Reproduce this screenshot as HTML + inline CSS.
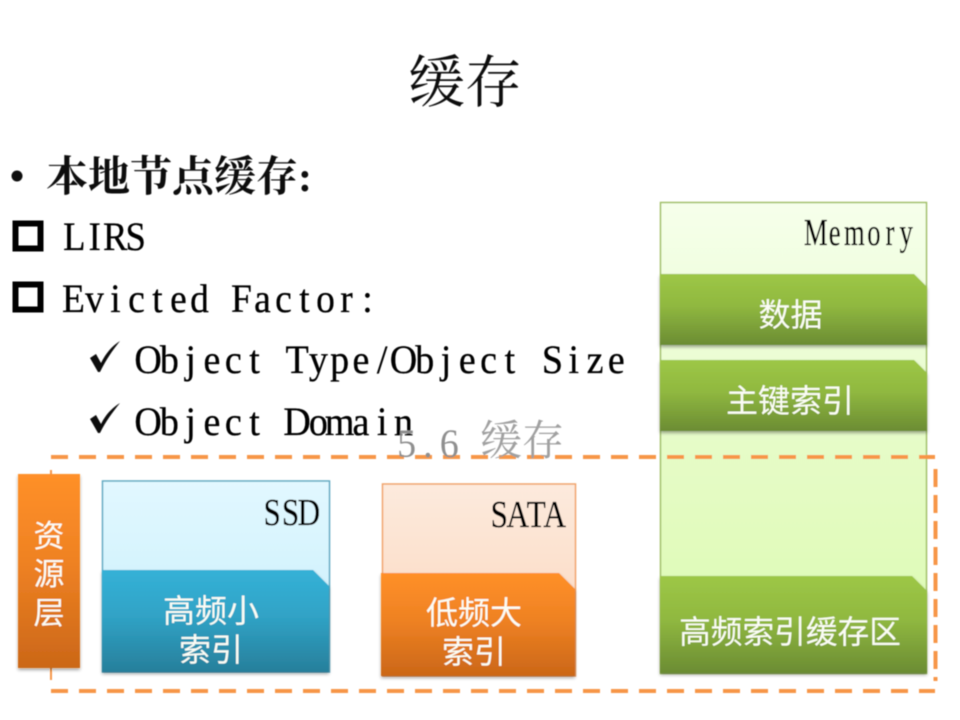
<!DOCTYPE html>
<html>
<head>
<meta charset="utf-8">
<style>
html,body{margin:0;padding:0;background:#fff;}
svg{display:block;}
.m{font-family:"Liberation Serif",serif;fill:#000;font-size:40px;text-anchor:middle;stroke:#000;stroke-width:.3px;}
.w{font-family:"Liberation Sans","Noto Sans CJK SC",sans-serif;fill:#fbfdf5;font-size:32px;text-anchor:middle;}
</style>
</head>
<body>
<svg width="960" height="720" viewBox="0 0 960 720" xmlns="http://www.w3.org/2000/svg">
<defs>
<linearGradient id="gg" x1="0" y1="0" x2="0" y2="1"><stop offset="0" stop-color="#9dc746"/><stop offset=".45" stop-color="#90b840"/><stop offset="1" stop-color="#6b8c33"/></linearGradient>
<linearGradient id="bg" x1="0" y1="0" x2="0" y2="1"><stop offset="0" stop-color="#35b1d7"/><stop offset=".45" stop-color="#30a3c6"/><stop offset="1" stop-color="#277f9b"/></linearGradient>
<linearGradient id="og" x1="0" y1="0" x2="0" y2="1"><stop offset="0" stop-color="#ff9029"/><stop offset=".45" stop-color="#ef8223"/><stop offset="1" stop-color="#cb6718"/></linearGradient>
<linearGradient id="lg" x1="0" y1="0" x2="0" y2="1"><stop offset="0" stop-color="#f6ffeb"/><stop offset=".5" stop-color="#e6fcc8"/><stop offset="1" stop-color="#dcfab0"/></linearGradient>
<linearGradient id="lb" x1="0" y1="0" x2="0" y2="1"><stop offset="0" stop-color="#e2f8ff"/><stop offset="1" stop-color="#c6eefb"/></linearGradient>
<linearGradient id="lo" x1="0" y1="0" x2="0" y2="1"><stop offset="0" stop-color="#fdeadd"/><stop offset="1" stop-color="#fbd5ba"/></linearGradient>
<filter id="sh" x="-5%" y="-5%" width="110%" height="115%"><feDropShadow dx="0" dy="2" stdDeviation="1.5" flood-color="#000" flood-opacity=".35"/></filter>
<filter id="b" x="-5%" y="-5%" width="110%" height="110%"><feGaussianBlur stdDeviation=".45"/></filter>
</defs>

<g filter="url(#b)">
<!-- Title -->
<text x="465" y="102" text-anchor="middle" font-size="57" fill="#111" font-family="'Liberation Serif','Noto Serif CJK SC',serif">缓存</text>

<!-- Bullets -->
<circle cx="17" cy="176" r="5.5" fill="#111"/>
<text x="46" y="191" font-size="42" font-weight="700" fill="#111" font-family="'Liberation Serif','Noto Serif CJK SC',serif">本地节点缓存:</text>

<rect x="15.5" y="223.5" width="25" height="25" fill="none" stroke="#000" stroke-width="6"/>
<text class="m" transform="translate(64,250) scale(.915,1)" x="11.2 33.6 56 78.4">LIRS</text>

<rect x="15.5" y="284.5" width="25" height="25" fill="none" stroke="#000" stroke-width="6"/>
<text class="m" transform="translate(63,312) scale(.9375,1)" x="11.2 33.6 56 78.4 100.8 123.2 145.6 168 190.4 212.8 235.2 257.6 280 302.4 324.8">Evicted Factor:</text>

<path d="M90 358 L96 354 L101 363 C106 353 112 346 120 341 C112 351 106 360 100 372 L98 372 Z" fill="#111"/>
<text class="m" transform="translate(137.5,373) scale(.95,1)" x="11.2 33.6 56 78.4 100.8 123.2 145.6 168 190.4 212.8 235.2 257.6 280 302.4 324.8 347.2 369.6 392 414.4 436.8 459.2 481.6 504">Object Type/Object Size</text>

<path d="M90 419 L96 415 L101 424 C106 414 112 408 120 403 C112 413 106 421 100 433 L98 433 Z" fill="#111"/>
<text class="m" transform="translate(137.5,435) scale(.95,1)" x="11.2 33.6 56 78.4 100.8 123.2 145.6 168 190.4 212.8 235.2 257.6 280">Object Domain</text>

<!-- Memory -->
<rect x="660.5" y="202.5" width="266" height="471" fill="url(#lg)" stroke="#a0c066" stroke-width="1.5"/>
<text class="m" transform="translate(806,245) scale(.7,1)" style="font-size:38px" x="14 41 69 97 120 143">Memory</text>

<path d="M660 274 H914 L927 287 V345 H660 Z" fill="url(#gg)" filter="url(#sh)"/>
<text class="w" x="790.5" y="326">数据</text>
<path d="M660 360 H914 L927 373 V431 H660 Z" fill="url(#gg)" filter="url(#sh)"/>
<text class="w" x="790" y="412">主键索引</text>
<path d="M660 576 H912 L927 591 V673 H660 Z" fill="url(#gg)" filter="url(#sh)"/>
<text class="w" x="790" y="643" style="font-size:31.7px">高频索引缓存区</text>

<!-- Dashed frame -->
<path d="M51 457 H935" fill="none" stroke="#f79646" stroke-width="4" stroke-dasharray="17 11"/>
<path d="M51 691 H935" fill="none" stroke="#f79646" stroke-width="4" stroke-dasharray="17 11"/>
<path d="M935.5 469 V681" fill="none" stroke="#f79646" stroke-width="4" stroke-dasharray="18 8"/>
<path d="M51 470 V680" fill="none" stroke="#f79646" stroke-width="2"/>

<!-- Gray footer title -->
<text transform="translate(396,457) scale(.95,1)" x="11.2 33.6 56" font-size="40" text-anchor="middle" fill="#8f8f8f" font-family="'Liberation Serif',serif">5.6</text>
<text x="480" y="455" font-size="42" fill="#a0a0a0" font-family="'Liberation Serif','Noto Serif CJK SC',serif">缓存</text>

<!-- Resource layer -->
<rect x="18" y="474" width="62" height="194" fill="url(#og)" filter="url(#sh)"/>
<text class="w" x="49" y="547" style="font-size:31px">资</text>
<text class="w" x="49" y="585" style="font-size:31px">源</text>
<text class="w" x="49" y="624" style="font-size:31px">层</text>

<!-- SSD -->
<rect x="102.5" y="481" width="227" height="191" fill="url(#lb)" stroke="#5ea9c2" stroke-width="1.5"/>
<text class="m" transform="translate(263,525) scale(.82,1)" style="font-size:38px" x="11.2 33.6 56">SSD</text>
<path d="M102 570 H313 L329 586 V672 H102 Z" fill="url(#bg)" filter="url(#sh)"/>
<text class="w" x="211" y="622">高频小</text>
<text class="w" x="211" y="661">索引</text>

<!-- SATA -->
<rect x="382.5" y="484" width="193" height="192" fill="url(#lo)" stroke="#f0a369" stroke-width="1.5"/>
<text class="m" transform="translate(490,527) scale(.826,1)" style="font-size:38px" x="11.2 33.6 56 78.4">SATA</text>
<path d="M381 573 H559 L575 589 V676 H381 Z" fill="url(#og)" filter="url(#sh)"/>
<text class="w" x="474" y="624">低频大</text>
<text class="w" x="474" y="663">索引</text>
</g>
</svg>
</body>
</html>
